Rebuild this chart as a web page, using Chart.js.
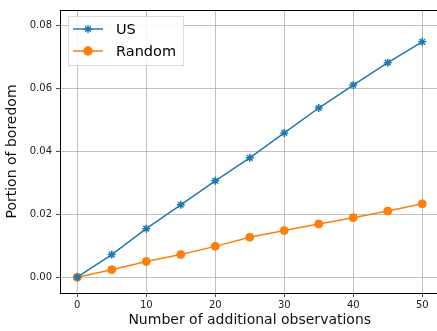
<!DOCTYPE html>
<html><head><meta charset="utf-8">
<script src="https://cdn.jsdelivr.net/npm/chart.js@4"></script>
<style>html,body{margin:0;padding:0;background:#fff;overflow:hidden}#wrap{width:437px;height:331px;position:relative;overflow:hidden}</style>
</head><body><div id="wrap"><canvas id="c" width="445" height="331"></canvas></div>
<script>
const xValues = [0, 5, 10, 15, 20, 25, 30, 35, 40, 45, 50];
const usValues = [0.0, 0.0072, 0.0154, 0.0230, 0.0306, 0.0379, 0.0458, 0.0537, 0.0610, 0.0681, 0.0747];
const randomValues = [0.0, 0.0024, 0.0050, 0.0072, 0.0098, 0.0127, 0.0148, 0.0169, 0.0189, 0.0210, 0.0233];
const xTicks = [0, 10, 20, 30, 40, 50];
const yTicks = [0.00, 0.02, 0.04, 0.06, 0.08];
const seriesNames = ['US', 'Random'];

const FONT = "'DejaVu Sans', sans-serif";
const legendBox = {
  id: 'legendBox',
  afterDraw(chart) {
    const ctx = chart.ctx, a = chart.chartArea;
    ctx.save();
    const bx = Math.round(a.left + 8), by = Math.round(a.top + 6), bw = 115, bh = 49;
    ctx.fillStyle = 'rgba(255,255,255,0.85)';
    ctx.fillRect(bx, by, bw, bh);
    ctx.strokeStyle = '#dcdcdc'; ctx.lineWidth = 1;
    ctx.strokeRect(bx + 0.5, by + 0.5, bw, bh);
    chart.data.datasets.forEach((ds, i) => {
      const y = Math.round(by + 13 + i * 22);
      ctx.strokeStyle = ds.borderColor; ctx.lineWidth = 1.5;
      ctx.beginPath(); ctx.moveTo(bx + 5, y); ctx.lineTo(bx + 35, y); ctx.stroke();
      ctx.fillStyle = ds.borderColor; ctx.strokeStyle = ds.borderColor;
      Chart.helpers.drawPoint(ctx, {pointStyle: ds.pointStyle, radius: ds.pointRadius, rotation: 0, borderWidth: ds.pointBorderWidth}, bx + 20, y);
      ctx.fillStyle = '#000'; ctx.font = "14.5px " + FONT; ctx.textBaseline = 'middle'; ctx.textAlign = 'left';
      ctx.fillText(ds.label, bx + 48, y + 1);
    });
    ctx.restore();
  }
};

new Chart(document.getElementById('c'), {
  type: 'line',
  data: {
    datasets: [
      {label: seriesNames[0], data: xValues.map((x, i) => ({x, y: usValues[i]})), borderColor: '#1f77b4', backgroundColor: '#1f77b4', borderWidth: 1.5, pointStyle: 'star', pointRadius: 4, pointBorderWidth: 1.5, tension: 0},
      {label: seriesNames[1], data: xValues.map((x, i) => ({x, y: randomValues[i]})), borderColor: '#ff7f0e', backgroundColor: '#ff7f0e', borderWidth: 1.5, pointStyle: 'circle', pointRadius: 4, pointBorderWidth: 1, tension: 0}
    ]
  },
  options: {
    responsive: false, animation: false, devicePixelRatio: 1,
    layout: {padding: {top: 9, right: 5, left: 0, bottom: 0}},
    plugins: {legend: {display: false}, tooltip: {enabled: false}},
    scales: {
      x: {
        type: 'linear', min: -2.5, max: 52.5,
        afterBuildTicks: ax => { ax.ticks = xTicks.map(v => ({value: v})); },
        afterFit: ax => { ax.height = 38; ax.paddingRight = 0; ax.paddingLeft = 0; },
        grid: {color: '#b0b0b0', lineWidth: 0.8, tickColor: '#222', tickLength: 4},
        border: {color: '#000', width: 1},
        ticks: {color: '#222', font: {family: FONT, size: 10}, padding: 2, maxRotation: 0},
        title: {display: true, text: 'Number of additional observations', color: '#111', font: {family: FONT, size: 14}, padding: {top: 0, bottom: 2}}
      },
      xTop: {
        type: 'linear', position: 'top', min: -2.5, max: 52.5,
        afterFit: ax => { ax.height = 0; ax.paddingRight = 0; ax.paddingLeft = 0; },
        grid: {display: false, drawTicks: false},
        border: {display: true, color: '#000', width: 1},
        ticks: {display: false}
      },
      y: {
        type: 'linear', min: -0.005, max: 0.0848,
        afterBuildTicks: ax => { ax.ticks = yTicks.map(v => ({value: v})); },
        afterFit: ax => { ax.width = 60; },
        grid: {color: '#b0b0b0', lineWidth: 0.8, tickColor: '#222', tickLength: 4},
        border: {color: '#000', width: 1},
        ticks: {color: '#222', font: {family: FONT, size: 10}, padding: 4, callback: v => v.toFixed(2)},
        title: {display: true, text: 'Portion of boredom', color: '#111', font: {family: FONT, size: 14}, padding: {top: 4, bottom: 0}}
      }
    }
  },
  plugins: [legendBox]
});
</script></body></html>
